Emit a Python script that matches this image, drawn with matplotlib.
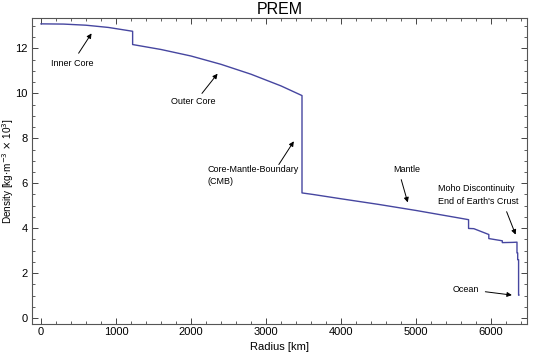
import matplotlib
matplotlib.use('Agg')
import matplotlib.pyplot as plt
from matplotlib.ticker import MultipleLocator

plt.rcParams['font.family'] = ['Liberation Sans', 'DejaVu Sans']

# PREM density profile (radius km, density 10^3 kg/m^3)
radius = [0, 300, 600, 900, 1221.5, 1221.5, 1600, 2000, 2400, 2800, 3200, 3480,
          3480, 3630, 4000, 4500, 5000, 5600, 5701, 5701, 5771, 5971, 5971,
          6151, 6151, 6291, 6346.6, 6346.6, 6356, 6356, 6368, 6368, 6371]
density = [13.09, 13.08, 13.03, 12.93, 12.76, 12.17, 11.95, 11.66, 11.29, 10.85, 10.33, 9.90,
           5.57, 5.50, 5.31, 5.06, 4.79, 4.44, 4.38, 3.99, 3.98, 3.72, 3.54,
           3.44, 3.36, 3.37, 3.38, 2.90, 2.90, 2.60, 2.60, 1.02, 1.02]

# annotations: label, text pos, arrow tail, arrow tip, alignment
labels = ['Inner Core', 'Outer Core', 'Core-Mantle-Boundary\n(CMB)', 'Mantle',
          'Moho Discontinuity\nEnd of Earth\'s Crust', 'Ocean']
text_pos = [(414, 11.33), (2029, 9.63), (2216, 6.35), (4873, 6.63), (5300, 5.48), (5661, 1.28)]
tails = [(481, 11.68), (2123, 9.9), (3151, 6.73), (4793, 6.28), (6195, 4.85), (5888, 1.19)]
tips = [(694, 12.77), (2377, 10.97), (3391, 7.97), (4900, 5.03), (6342, 3.60), (6315, 1.01)]
aligns = ['center', 'center', 'left', 'center', 'left', 'center']

fig = plt.figure(figsize=(5.4, 3.56), dpi=100)
ax = fig.add_axes([0.0593, 0.0899, 0.9166, 0.8595])

ax.plot(radius, density, color='#4646a0', lw=1.0)

for lab, tp, tl, tip, ha in zip(labels, text_pos, tails, tips, aligns):
    ax.text(tp[0], tp[1], lab, ha=ha, va='center', fontsize=6.5, linespacing=1.5)
    ax.annotate('', xy=tip, xytext=tl,
                arrowprops=dict(arrowstyle='-|>', color='black', lw=0.7, mutation_scale=7))

ax.set_xlim(-120, 6480)
ax.set_ylim(-0.26, 13.35)
ax.xaxis.set_major_locator(MultipleLocator(1000))
ax.xaxis.set_minor_locator(MultipleLocator(200))
ax.yaxis.set_major_locator(MultipleLocator(2))
ax.yaxis.set_minor_locator(MultipleLocator(0.5))
ax.tick_params(which='both', direction='in', top=True, right=True, color='#444444',
               labelsize=8)
ax.tick_params(which='major', length=4, width=0.7)
ax.tick_params(which='minor', length=2, width=0.6)
ax.tick_params(axis='x', pad=2.5)
ax.tick_params(axis='y', pad=3)
for s in ax.spines.values():
    s.set_color('#555555')
    s.set_linewidth(0.8)

ax.set_title('PREM', fontsize=11.5, pad=3)
ax.set_xlabel('Radius [km]', fontsize=8)
ax.set_ylabel(r'Density [kg$\cdot$m$^{-3}$ $\times$ 10$^3$]', fontsize=7.2)
ax.xaxis.set_label_coords(0.5, -0.058)
ax.yaxis.set_label_coords(-0.032, 0.5)

fig.savefig('out.png', dpi=100)
